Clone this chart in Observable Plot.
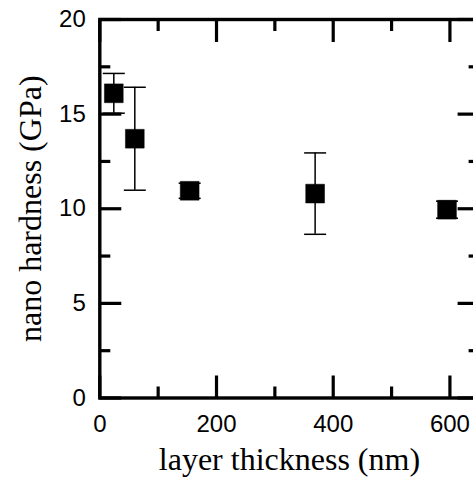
<!DOCTYPE html>
<html>
<head>
<meta charset="utf-8">
<script src="https://cdn.jsdelivr.net/npm/d3@7"></script>
<script src="https://cdn.jsdelivr.net/npm/@observablehq/plot@0.6"></script>
<style>
  html, body { margin: 0; padding: 0; background: #fff; overflow: hidden; }
</style>
</head>
<body>
<div id="chart"></div>
<script>
const thickness = [24, 60, 154, 369, 595];
const hardness = [16.1, 13.7, 10.95, 10.8, 9.95];
const errorBar = [1.05, 2.72, 0.4, 2.15, 0.45];

const xMajor = [0, 200, 400, 600];
const xMinor = [100, 300, 500];
const yMajor = [0, 5, 10, 15, 20];
const yMinor = [2.5, 7.5, 12.5, 17.5];

const xTitle = "layer thickness (nm)";
const yTitle = "nano hardness (GPa)";

const data = thickness.map((t, i) => ({t, h: hardness[i], e: errorBar[i]}));

const capSymbol = {
  draw(ctx, size) {
    const r = Math.sqrt(size / Math.PI);
    ctx.moveTo(-r, 0);
    ctx.lineTo(r, 0);
  }
};

const sans = "'Liberation Sans', Arial, sans-serif";
const serif = "'Liberation Serif', 'Times New Roman', serif";

const tickMarks = [];
for (const anchor of ["bottom", "top"]) {
  tickMarks.push(Plot.axisX({anchor, ticks: xMajor, tickSize: -22, fill: "none", strokeWidth: 3.2, label: null}));
  tickMarks.push(Plot.axisX({anchor, ticks: xMinor, tickSize: -11, fill: "none", strokeWidth: 3.2, label: null}));
}
for (const anchor of ["left", "right"]) {
  tickMarks.push(Plot.axisY({anchor, ticks: yMajor, tickSize: -22, fill: "none", strokeWidth: 3.2, label: null}));
  tickMarks.push(Plot.axisY({anchor, ticks: yMinor, tickSize: -11, fill: "none", strokeWidth: 3.2, label: null}));
}

const chart = Plot.plot({
  width: 473,
  height: 481,
  marginLeft: 99.3,
  marginRight: -5.6,
  marginTop: 19,
  marginBottom: 83.5,
  x: {domain: [0, 650]},
  y: {domain: [0, 20]},
  style: {background: "#fff", color: "#000", overflow: "hidden"},
  marks: [
    ...tickMarks,
    Plot.axisX({anchor: "bottom", ticks: xMajor, tickSize: 0, tickPadding: 17, fontSize: 24, fontFamily: sans, label: null}),
    Plot.axisY({anchor: "left", ticks: yMajor, tickSize: 0, tickPadding: 14, fontSize: 24, fontFamily: sans, label: null}),
    Plot.frame({stroke: "#000", strokeWidth: 3.4}),
    Plot.ruleX(data, {x: "t", y1: d => d.h - d.e, y2: d => d.h + d.e, stroke: "#000", strokeWidth: 1.5}),
    Plot.dot(data, {x: "t", y: d => d.h + d.e, symbol: capSymbol, r: 11, stroke: "#000", strokeWidth: 1.5, fill: "none"}),
    Plot.dot(data, {x: "t", y: d => d.h - d.e, symbol: capSymbol, r: 11, stroke: "#000", strokeWidth: 1.5, fill: "none"}),
    Plot.dot(data, {x: "t", y: "h", symbol: "square", r: 10.6, fill: "#000", stroke: "#000", strokeWidth: 0.5}),
    Plot.text([xTitle], {frameAnchor: "bottom", textAnchor: "middle", lineAnchor: "bottom", dy: 72, fontSize: 32, fontFamily: serif, fill: "#000"}),
    Plot.text([yTitle], {frameAnchor: "left", textAnchor: "middle", lineAnchor: "middle", dx: -69, rotate: -90, fontSize: 32, fontFamily: serif, fill: "#000"})
  ]
});
document.getElementById("chart").appendChild(chart);
</script>
</body>
</html>
